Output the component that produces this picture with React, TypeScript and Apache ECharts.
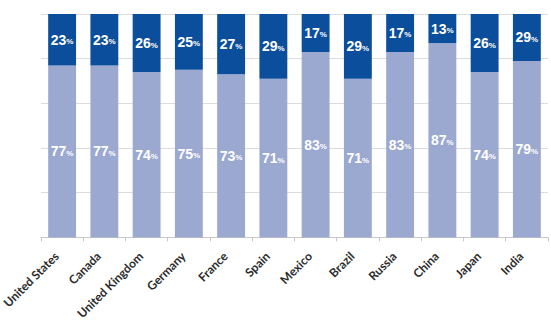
import React, { useEffect, useRef } from "react";
import * as echarts from "echarts";

const countries = [
  "United States",
  "Canada",
  "United Kingdom",
  "Germany",
  "France",
  "Spain",
  "Mexico",
  "Brazil",
  "Russia",
  "China",
  "Japan",
  "India",
];

// Lower (light) segment share, percent
const lowerShare = [77, 77, 74, 75, 73, 71, 83, 71, 83, 87, 74, 79];
// Upper (dark) segment share, percent
const upperShare = [23, 23, 26, 25, 27, 29, 17, 29, 17, 13, 26, 29];

const yTicks = { min: 0, max: 100, interval: 20 };

const DARK = "#0b4e9b";
const LIGHT = "#9ba9d1";

const pctLabel = {
  show: true,
  position: "inside",
  color: "#ffffff",
  formatter: (p: any) => `{n|${p.value}}{s|%}`,
  rich: {
    n: {
      fontFamily: "Liberation Sans, Arial, sans-serif",
      fontWeight: "bold",
      fontSize: 14,
      color: "#ffffff",
    },
    s: {
      fontFamily: "Liberation Sans, Arial, sans-serif",
      fontWeight: "bold",
      fontSize: 8,
      color: "#ffffff",
      padding: [4, 0, 0, 0],
    },
  },
};

export default function App() {
  const ref = useRef<HTMLDivElement>(null);

  useEffect(() => {
    document.body.style.margin = "0";
    const chart = echarts.init(ref.current!, null, { renderer: "svg" });
    chart.setOption({
      animation: false,
      backgroundColor: "#ffffff",
      grid: { left: 22, right: 3, top: 14, bottom: 82 },
      xAxis: {
        type: "category",
        data: countries,
        axisLine: { show: true, lineStyle: { color: "#c8c8c8" } },
        axisTick: {
          show: true,
          alignWithLabel: false,
          length: 4,
          lineStyle: { color: "#c8c8c8" },
        },
        axisLabel: {
          rotate: 45,
          margin: 11,
          interval: 0,
          padding: [0, 8, 0, 0],
          color: "#2b2b2b",
          fontFamily: "Lato, Open Sans, sans-serif",
          fontWeight: "bold",
          fontSize: 12,
        },
      },
      yAxis: {
        type: "value",
        min: yTicks.min,
        max: yTicks.max,
        interval: yTicks.interval,
        axisLabel: { show: false },
        axisLine: { show: false },
        axisTick: { show: false },
        splitLine: { show: true, lineStyle: { color: "#dcdcdc", width: 1 } },
      },
      series: [
        {
          type: "bar",
          stack: "share",
          data: lowerShare,
          barCategoryGap: "34%",
          itemStyle: { color: LIGHT },
          label: pctLabel,
        },
        {
          type: "bar",
          stack: "share",
          data: upperShare,
          barCategoryGap: "34%",
          itemStyle: { color: DARK },
          label: pctLabel,
        },
      ],
    });
    return () => chart.dispose();
  }, []);

  return (
    <div
      ref={ref}
      style={{ position: "fixed", left: 0, top: 0, width: 551, height: 322 }}
    />
  );
}
